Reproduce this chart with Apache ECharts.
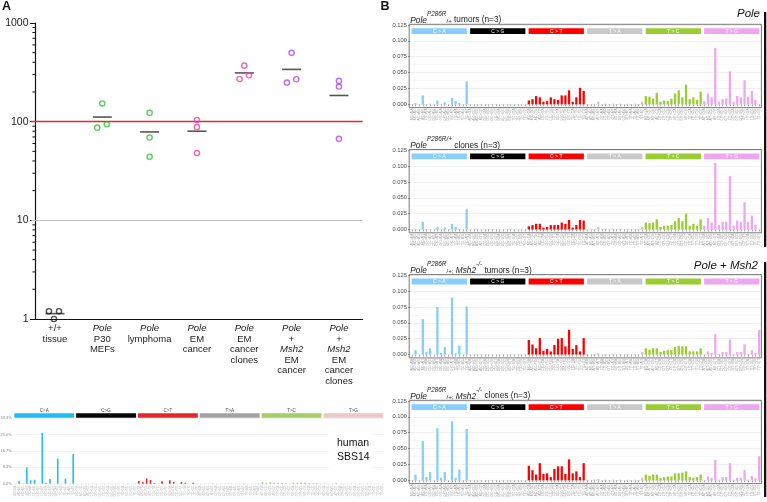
<!DOCTYPE html>
<html><head><meta charset="utf-8">
<script src="https://cdn.jsdelivr.net/npm/echarts@6/dist/echarts.min.js"></script>
<style>html,body{margin:0;padding:0;background:#fff}#c{width:767px;height:502px}</style>
</head><body><div id="c"></div>
<script>
// ================= DATA =================
// Panel A: mutations / Mb per sample group
const GROUP_LABELS = [
  '+/+\ntissue',
  '{i|Pole}\nP30\nMEFs',
  '{i|Pole}\nlymphoma',
  '{i|Pole}\nEM\ncancer',
  '{i|Pole}\nEM\ncancer\nclones',
  '{i|Pole}\n+\n{i|Msh2}\nEM\ncancer',
  '{i|Pole}\n+\n{i|Msh2}\nEM\ncancer\nclones'
];
const WT_TISSUE = [1.2, 1.2, 1.0];
const POLE_MEFS = [87, 153, 94];
const POLE_LYMPHOMA = [123, 69, 44];
const POLE_EM = [104, 88, 48];
const POLE_EM_CLONES = [271, 370, 295];
const POLE_MSH2_EM = [249, 498, 269];
const POLE_MSH2_EM_CLONES = [259, 227, 67];
const A_Y_MINOR_TICKS = [2,3,4,5,6,7,8,9,20,30,40,50,60,70,80,90,200,300,400,500,600,700,800,900];
const A_REF_RED = 100;
const A_REF_GRAY = 10;

// Mutation-type categories
const BASES = ['A','C','G','T'];
const MUT_TYPES = ['C>A','C>G','C>T','T>A','T>C','T>G'];

// Human SBS14 signature (percent), 96 channels, by type
const SBS14_CA = [0,1.5,0,8.3,1.7,2.0,0,25.9,0.3,2.4,0,12.8,0,2.6,0,15.1];
const SBS14_CG = [0,0,0,0,0,0,0,0,0,0,0,0,0,0,0,0];
const SBS14_CT = [1.4,1.0,2.7,1.9,0.3,0,1.2,0,1.7,0.9,0,0.9,0.5,0,0.5,0];
const SBS14_TA = [0,0,0,0.1,0,0,0,0.1,0,0,0,0.1,0,0,0,0.1];
const SBS14_TC = [0.8,0.5,0.8,0.5,0.3,0.3,0.3,0,0.5,0.5,0.6,0.5,0.3,0.2,0.2,0];
const SBS14_TG = [0.1,0,0.1,0.5,0,0,0,0.1,0,0,0,0.1,0,0,0,0];
const SBS14_TICKS = [0, 8.333, 16.667, 25, 33.333];

// Panel B profiles (relative contribution), 96 channels each
const POLE_TUMORS = [
  0,0.002,0,0.014,0,0.001,0,0.006,0,0.003,0,0.010,0.005,0.002,0,0.036,
  0,0,0,0,0,0,0,0,0,0,0,0,0,0,0,0,
  0.006,0.008,0.013,0.011,0.004,0.005,0.011,0.008,0.007,0.014,0.014,0.022,0.004,0.011,0.026,0.021,
  0,0,0,0.004,0,0.001,0,0.001,0,0.001,0,0.001,0,0.001,0,0.004,
  0.013,0.012,0.009,0.018,0.004,0.006,0.005,0.009,0.017,0.022,0.011,0.031,0.008,0.011,0.007,0.020,
  0.005,0.017,0.011,0.089,0.004,0.008,0.009,0.052,0.004,0.013,0.011,0.038,0.012,0.021,0.007,0
];
const POLE_CLONES = [
  0,0.001,0,0.012,0,0,0,0.004,0,0.003,0,0.009,0.004,0.001,0,0.032,
  0,0,0,0,0,0,0,0,0,0,0,0,0,0,0,0,
  0.005,0.007,0.009,0.009,0.003,0.004,0.007,0.007,0.007,0.011,0.009,0.015,0.003,0.007,0.015,0.014,
  0,0,0,0.004,0,0.001,0,0.001,0,0.001,0,0.001,0,0.001,0,0.004,
  0.011,0.010,0.011,0.016,0.004,0.006,0.006,0.007,0.013,0.018,0.013,0.025,0.006,0.009,0.006,0.016,
  0.006,0.018,0.011,0.105,0.007,0.012,0.012,0.084,0.006,0.014,0.012,0.043,0.012,0.022,0.007,0
];
const POLE_MSH2_TUMORS = [
  0,0.007,0,0.056,0.004,0.010,0,0.075,0.003,0.012,0,0.090,0.002,0.014,0,0.076,
  0,0,0,0,0,0,0,0,0,0,0,0,0,0,0,0,
  0.023,0.016,0.010,0.026,0.006,0.009,0.005,0.015,0.025,0.026,0.013,0.039,0.009,0.015,0.005,0.026,
  0.001,0,0.001,0.002,0,0.001,0,0.001,0,0.001,0,0.001,0,0.001,0,0.004,
  0.010,0.008,0.010,0.010,0.004,0.006,0.007,0.007,0.012,0.014,0.013,0.013,0.005,0.005,0.005,0.010,
  0,0.005,0.003,0.032,0.001,0.004,0.004,0.024,0.001,0.004,0.004,0.016,0.001,0.007,0.003,0.039
];
const POLE_MSH2_CLONES = [
  0,0.009,0,0.062,0.005,0.013,0,0.082,0.004,0.013,0,0.093,0.004,0.017,0,0.081,
  0,0,0,0,0,0,0,0,0,0,0,0,0,0,0,0,
  0.023,0.016,0.009,0.027,0.010,0.011,0.005,0.018,0.022,0.022,0.010,0.033,0.011,0.014,0.005,0.027,
  0.001,0,0.001,0.002,0,0.001,0,0.001,0,0.001,0,0.001,0,0.001,0,0.004,
  0.009,0.007,0.009,0.009,0.004,0.005,0.006,0.006,0.011,0.011,0.012,0.014,0.005,0.004,0.005,0.009,
  0,0.006,0.004,0.032,0.001,0.005,0.005,0.027,0.001,0.004,0.004,0.016,0.001,0.007,0.003,0.038
];
const B_TICKS = [0, 0.025, 0.05, 0.075, 0.1, 0.125];

// ================= STYLE / LAYOUT =================
const FF = '"Liberation Sans", Arial, Helvetica, sans-serif';
const A_COLORS = ['#222222','#33c433','#33c433','#f2439b','#f2439b','#b443ee','#b443ee'];
const A_JITTER = [[-6,4,-1],[-5,0,4.5],[0,0,0],[0,0,0],[-4.7,0,4.7],[-4.7,0,4.7],[0,0,0]];
const A_GRID = {left:31.3, top:23, width:331.3, height:296, outerBoundsMode:'none'};
const A_AXIS_SHIFT = 3.7;
const SBS_GRID = {left:13.3, top:418.3, width:371, height:65.4, outerBoundsMode:'none'};
const COSMIC_COLORS = ['#1ebff0','#050708','#e62725','#a3a3a3','#a1cf64','#edc8c5'];
const MP_COLORS = ['#87cefa','#000000','#ff0000','#c8c8c8','#9acd32','#eea6ee'];
const B_LEFT = 410, B_WIDTH = 351, B_H = 79.3;
const B_TOPS = [25, 150.2, 275.3, 401];

const CONTEXTS = [];
MUT_TYPES.forEach(t => BASES.forEach(b1 => BASES.forEach(b2 => CONTEXTS.push(b1 + '[' + t + ']' + b2))));

const A_SERIES_DATA = [WT_TISSUE, POLE_MEFS, POLE_LYMPHOMA, POLE_EM, POLE_EM_CLONES, POLE_MSH2_EM, POLE_MSH2_EM_CLONES];
const SBS14 = [].concat(SBS14_CA, SBS14_CG, SBS14_CT, SBS14_TA, SBS14_TC, SBS14_TG);
const B_PANELS = [POLE_TUMORS, POLE_CLONES, POLE_MSH2_TUMORS, POLE_MSH2_CLONES];

const mean = arr => arr.reduce((a,b)=>a+b,0)/arr.length;

// ================= BUILD =================
const grids = [], xAxes = [], yAxes = [], series = [], titles = [], graphics = [];

// ---- Panel A ----
grids.push(A_GRID);
xAxes.push({
  gridIndex:0, type:'category', data: GROUP_LABELS, boundaryGap:true,
  axisLine:{lineStyle:{color:'#111', width:1.2}},
  axisTick:{alignWithLabel:true, length:3, lineStyle:{color:'#111'}},
  axisLabel:{interval:0, fontFamily:FF, fontSize:9.5, lineHeight:10.6, color:'#222', margin:4,
    rich:{i:{fontStyle:'italic', fontFamily:FF, fontSize:9.5, lineHeight:10.6, color:'#222'}}},
  splitLine:{show:false}
});
yAxes.push({
  gridIndex:0, type:'log', logBase:10, min:1, max:1000, offset:-A_AXIS_SHIFT,
  name:'mutations / Mb', nameLocation:'middle', nameGap:22,
  nameTextStyle:{fontFamily:FF, fontSize:10.5, color:'#222'},
  axisLine:{show:true, lineStyle:{color:'#111', width:1.2}},
  axisTick:{show:true, length:5, lineStyle:{color:'#111', width:1}},
  axisLabel:{fontFamily:FF, fontSize:10.5, color:'#222', margin:6.5, formatter:v => String(Math.round(v))},
  splitLine:{show:false}, minorTick:{show:false}
});
// reference lines
series.push({
  type:'line', xAxisIndex:0, yAxisIndex:0, data:[], silent:true,
  markLine:{symbol:'none', silent:true, label:{show:false}, animation:false,
    data:[{yAxis:A_REF_RED, lineStyle:{color:'#e3282c', width:1.3, type:'solid'}},
          {yAxis:A_REF_GRAY, lineStyle:{color:'#c2c2c2', width:1, type:'solid'}}]}
});
// minor log ticks
series.push({
  type:'custom', xAxisIndex:0, yAxisIndex:0, silent:true, clip:false,
  data: A_Y_MINOR_TICKS.map(v => [0, v]),
  renderItem:(params, api) => {
    const y = api.coord([0, api.value(1)])[1];
    const x0 = params.coordSys.x + A_AXIS_SHIFT;
    return {type:'line', shape:{x1:x0-2.6, y1:y, x2:x0, y2:y}, style:{stroke:'#111', lineWidth:1}};
  }
});
A_SERIES_DATA.forEach((vals, gi) => {
  series.push({
    type:'scatter', xAxisIndex:0, yAxisIndex:0, symbol:'circle', symbolSize:5.2, z:5,
    itemStyle:{color:'rgba(255,255,255,0)', borderColor:A_COLORS[gi], borderWidth:1.4},
    data: vals.map((v, k) => ({value:[gi, v], symbolOffset:[A_JITTER[gi][k], 0]})),
    animation:false
  });
});
series.push({
  type:'scatter', xAxisIndex:0, yAxisIndex:0, symbol:'rect', symbolSize:[19, 1.6], z:4,
  itemStyle:{color:'#2a2a2a'},
  data: A_SERIES_DATA.map((vals, gi) => [gi, mean(vals)]), animation:false
});

// ---- Strip helper ----
function stripSeries(gridIdx, offY, h, colors, inside){
  return {
    type:'custom', xAxisIndex:gridIdx, yAxisIndex:gridIdx, silent:true, clip:false, z:6,
    data: MUT_TYPES.map((t, g) => [g * 16, 0]),
    renderItem:(params, api) => {
      const g = params.dataIndex;
      const bw = api.size([1, 0])[0];
      const x0 = api.coord([g * 16, 0])[0] - bw / 2;
      const w = bw * 16;
      const cs = params.coordSys;
      const y0 = cs.y + offY;
      const gap = inside ? 1.6 : 1;
      const children = [{type:'rect', shape:{x:x0 + gap, y:y0, width:w - 2*gap, height:h}, style:{fill:colors[g]}}];
      if (inside) {
        children.push({type:'text', style:{text:MUT_TYPES[g].replace('>', ' > '), x:x0 + w/2, y:y0 + h/2 + 0.3,
          align:'center', verticalAlign:'middle', fill:'#ffffff', font:'5px ' + FF}});
      } else {
        children.push({type:'text', style:{text:MUT_TYPES[g], x:x0 + w/2, y:y0 - 2.6,
          align:'center', verticalAlign:'middle', fill:'#444', font:'4.5px ' + FF}});
      }
      return {type:'group', children};
    }
  };
}

// ---- SBS14 panel ----
grids.push(SBS_GRID);
xAxes.push({
  gridIndex:1, type:'category', data: CONTEXTS,
  axisLine:{show:false},
  axisTick:{show:true, alignWithLabel:true, interval:0, length:1.5, lineStyle:{color:'#ddd', width:0.5}},
  axisLabel:{interval:0, rotate:90, fontSize:2.6, color:'#bbb', margin:2, fontFamily:FF}
});
yAxes.push({
  gridIndex:1, type:'value', min:0, max:SBS14_TICKS[SBS14_TICKS.length-1], interval:SBS14_TICKS[1],
  axisLine:{show:false}, axisTick:{show:false},
  axisLabel:{fontSize:4, color:'#888', margin:1.5, fontFamily:FF, formatter:v => v.toFixed(1) + '%'},
  splitLine:{lineStyle:{color:'#ececec', width:0.6}}
});
series.push({
  type:'bar', xAxisIndex:1, yAxisIndex:1, data:SBS14, barWidth:1.6, animation:false,
  itemStyle:{color:p => COSMIC_COLORS[Math.floor(p.dataIndex / 16)]}
});
series.push(stripSeries(1, -5, 4.4, COSMIC_COLORS, false));

// ---- Panel B ----
B_PANELS.forEach((vals, k) => {
  const gi = k + 2;
  grids.push({left:B_LEFT, top:B_TOPS[k], width:B_WIDTH, height:B_H, outerBoundsMode:'none'});
  xAxes.push({
    gridIndex:gi, type:'category', data:CONTEXTS, offset:3.3,
    axisLine:{show:false},
    axisTick:{show:true, alignWithLabel:true, interval:0, length:2, lineStyle:{color:'#555', width:0.5}},
    axisLabel:{interval:0, rotate:90, fontSize:3, color:'#a0a0a0', margin:1, fontFamily:FF}
  });
  yAxes.push({
    gridIndex:gi, type:'value', min:B_TICKS[0], max:B_TICKS[B_TICKS.length-1], interval:B_TICKS[1],
    axisLine:{show:false},
    axisTick:{show:true, length:2, lineStyle:{color:'#555', width:0.6}},
    axisLabel:{fontSize:5.8, color:'#4d4d4d', margin:3, fontFamily:FF, formatter:v => v.toFixed(3)},
    splitLine:{lineStyle:{color:'#e6e6e6', width:0.6}},
    minorTick:{show:false, splitNumber:2},
    minorSplitLine:{show:true, lineStyle:{color:'#f3f3f3', width:0.5}}
  });
  series.push({
    type:'bar', xAxisIndex:gi, yAxisIndex:gi, data:vals, barWidth:2.3, animation:false,
    itemStyle:{color:p => MP_COLORS[Math.floor(p.dataIndex / 16)]}
  });
  series.push(stripSeries(gi, 3.3, 5.8, MP_COLORS, true));
  graphics.push({type:'rect', z:50, silent:true,
    shape:{x:B_LEFT - 0.8, y:B_TOPS[k] - 0.7, width:B_WIDTH + 1.2, height:B_H + 4},
    style:{fill:'none', stroke:'#6a6a6a', lineWidth:0.9}});
});

// ---- Titles / texts ----
const base = {fontFamily:FF, fontWeight:'normal', color:'#222'};
const tRich = {
  sp:Object.assign({}, base, {fontSize:1, lineHeight:13}),
  i:Object.assign({}, base, {fontStyle:'italic', fontSize:8.3, lineHeight:10, verticalAlign:'bottom'}),
  n:Object.assign({}, base, {fontStyle:'normal', fontSize:8.3, lineHeight:10, verticalAlign:'bottom'}),
  sup:Object.assign({}, base, {fontStyle:'italic', fontSize:6.4, lineHeight:7, verticalAlign:'top'}),
  sub:Object.assign({}, base, {fontStyle:'normal', fontSize:6.2, lineHeight:6.5, verticalAlign:'bottom'})
};
const B_TITLES = [
  '{sp| }{i|Pole}{sup|P286R}{sub|/+}{n| tumors (n=3)}',
  '{sp| }{i|Pole}{sup|P286R/+}{n| clones (n=3)}',
  '{sp| }{i|Pole}{sup|P286R}{sub|/+;}{n| }{i|Msh2}{sup|-/-}{n| tumors (n=3)}',
  '{sp| }{i|Pole}{sup|P286R}{sub|/+;}{n| }{i|Msh2}{sup|-/-}{n| clones (n=3)}'
];
B_TITLES.forEach((t, k) => titles.push({text:t, left:B_LEFT, top:B_TOPS[k] - 13.8, padding:0, itemGap:0,
  textStyle:{rich:tRich, fontFamily:FF, fontWeight:'normal', fontSize:8.3, color:'#222'}}));
titles.push({text:'A', left:2, top:0, padding:0, textStyle:{fontFamily:FF, fontWeight:'bold', fontSize:12.5, color:'#111'}});
titles.push({text:'B', left:380.5, top:0, padding:0, textStyle:{fontFamily:FF, fontWeight:'bold', fontSize:12.5, color:'#111'}});
titles.push({text:'Pole', right:7, top:8, padding:0, textStyle:{fontFamily:FF, fontStyle:'italic', fontWeight:'normal', fontSize:11.5, color:'#111'}});
titles.push({text:'Pole + Msh2', right:9, top:259.5, padding:0, textStyle:{fontFamily:FF, fontStyle:'italic', fontWeight:'normal', fontSize:11.5, color:'#111'}});
titles.push({text:'human\nSBS14', left:329, top:432, padding:[4,3,4,8], backgroundColor:'#fff',
  textStyle:{fontFamily:FF, fontWeight:'normal', fontSize:10.5, lineHeight:14, color:'#111'}});

graphics.push({type:'rect', z:50, silent:true, shape:{x:764, y:12, width:2.3, height:235}, style:{fill:'#111'}});
graphics.push({type:'rect', z:50, silent:true, shape:{x:764, y:262, width:2.3, height:235}, style:{fill:'#111'}});

const chart = echarts.init(document.getElementById('c'), null, {renderer:'canvas'});
chart.setOption({
  backgroundColor:'#fff', animation:false,
  title:titles, grid:grids, xAxis:xAxes, yAxis:yAxes, series:series, graphic:graphics
});
</script></body></html>
